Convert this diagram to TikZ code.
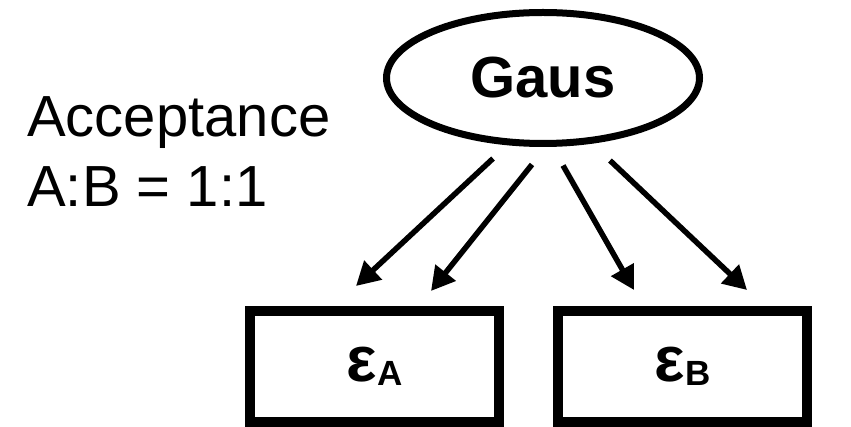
\documentclass[tikz,border=0pt]{standalone}
\usepackage{fontspec}
\setmainfont{Liberation Sans}
\usetikzlibrary{shapes.geometric,arrows.meta,calc}
\begin{document}
\begin{tikzpicture}[x=1pt,y=-1pt,
  latent/.style={ellipse,draw,line width=7pt,minimum width=313pt,minimum height=131pt,
    inner sep=0pt,font=\fontsize{58}{58}\selectfont\bfseries},
  obsbox/.style={rectangle,draw,line width=10pt,minimum width=249pt,minimum height=111pt,
    inner sep=0pt,font=\bfseries},
  arr/.style={line width=5.5pt,-{Triangle[length=23.5pt,width=25pt]}},
  note/.style={anchor=base west,align=left,inner sep=0pt,font=\fontsize{58}{70}\selectfont}]
\useasboundingbox (0,0) rectangle (851,427);

% latent distribution and the two observed quantities
\node[latent] (g) at (543,78) {Gaus};
\node[obsbox] (ea) at (374.5,366.5) {{\fontsize{64}{64}\selectfont ε}\raisebox{-4pt}{\fontsize{35}{35}\selectfont A}};
\node[obsbox] (eb) at (682.5,366.5) {{\fontsize{64}{64}\selectfont ε}\raisebox{-4pt}{\fontsize{35}{35}\selectfont B}};

% acceptance ratio note (anchored on the baseline of its last line)
\node[note] (acc) at (27,207) {Acceptance\\A:B = 1:1};

% generating arrows
\draw[arr] ($(g.south)+(-50,11.5)$) -- ($(ea.north)+(-18.5,-20)$);
\draw[arr] ($(g.south)+(-11,17.5)$) -- ($(ea.north)+(56.5,-15)$);
\draw[arr] ($(g.south)+(20,18.5)$) -- ($(eb.north)+(-48.5,-16)$);
\draw[arr] ($(g.south)+(67,13.5)$) -- ($(eb.north)+(64.5,-16)$);
\end{tikzpicture}
\end{document}
